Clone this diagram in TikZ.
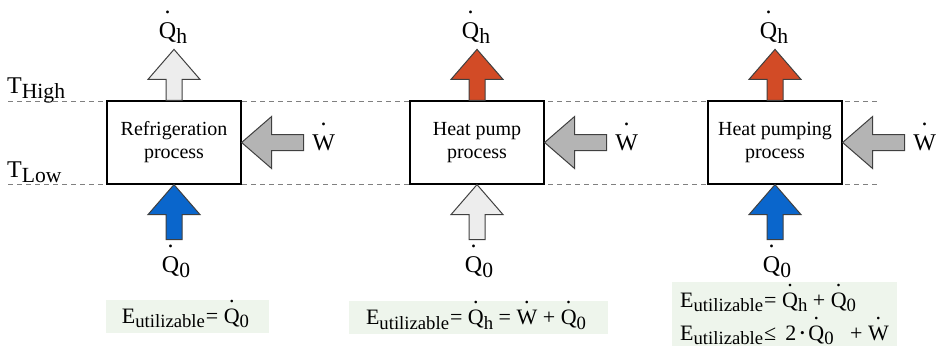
\documentclass[tikz,border=0pt]{standalone}
\usepackage{fontspec}
\setmainfont{Liberation Serif}
\usepackage{graphicx}
\usetikzlibrary{calc}
\definecolor{boxfill}{HTML}{EEF5EC}
\definecolor{hotred}{HTML}{D24B26}
\definecolor{coldblue}{HTML}{0A66CC}
\definecolor{lightg}{HTML}{EDEDED}
\definecolor{workg}{HTML}{B4B4B4}
\definecolor{edgec}{HTML}{404040}
% dotted symbol: optional raise of the dot
\newcommand\dt[2][1.05em]{\ooalign{#2\cr\hidewidth\raisebox{#1}[0pt][0pt]{.}\hidewidth\cr}}
\newcommand\fdt[1]{\dt[0.95em]{#1}}
\newcommand\lsub[1]{\raisebox{-0.22em}{\scalebox{0.9}{#1}}}
\newcommand\fsub[1]{\raisebox{-0.22em}{\scalebox{0.85}{#1}}}
\newcommand\mdot{\raisebox{0.12em}{\scalebox{0.6}{•}}}
\tikzset{
  process/.style={draw=black, fill=white, line width=1.2pt, minimum width=134pt,
    minimum height=83pt, align=center, font=\fontsize{20}{23}\selectfont, inner sep=0pt},
  lbl/.style={font=\fontsize{24}{28}\selectfont, inner sep=0pt},
  eqbox/.style={fill=boxfill, inner sep=0pt},
  eqtext/.style={font=\fontsize{22}{26}\selectfont, inner sep=0pt},
  level/.style={draw=gray, dash pattern=on 5pt off 4pt, line width=1pt},
  barrow/.pic={\path[draw=edgec, line width=1pt, pic actions]
    (0,-8) -- ({#1-30},-8) -- ({#1-30},-26) -- (#1,0) -- ({#1-30},26) -- ({#1-30},8) -- (0,8) -- cycle;}
}
\begin{document}
\begin{tikzpicture}[x=1pt,y=-1pt]
\useasboundingbox (0,0) rectangle (939,346);
% temperature levels
\coordinate (hiL) at (8,101);
\coordinate (hiR) at (878,101);
\coordinate (loL) at (8,184);
\coordinate (loR) at (878,184);
\draw[level] (hiL) -- (hiR);
\draw[level] (loL) -- (loR);
\node[lbl, anchor=base west] (th) at (7,93) {T\lsub{High}};
\node[lbl, anchor=base west] (tl) at (7,177) {T\lsub{Low}};
% process boxes
\node[process] (b1) at (174,142.5) {Refrigeration\\process};
\node[process] (b2) at (477,142.5) {Heat pump\\process};
\node[process] (b3) at (775,142.5) {Heat pumping\\process};
% arrows
\pic[fill=lightg, rotate=90] at (b1.north) {barrow=51};
\pic[fill=hotred, rotate=90] at (b2.north) {barrow=51};
\pic[fill=hotred, rotate=90] at (b3.north) {barrow=51};
\pic[fill=coldblue, rotate=90] at ($(b1.south)+(0,55)$) {barrow=55};
\pic[fill=lightg, rotate=90] at ($(b2.south)+(0,55)$) {barrow=55};
\pic[fill=coldblue, rotate=90] at ($(b3.south)+(0,55)$) {barrow=55};
\pic[fill=workg, rotate=180] at ($(b1.east)+(62,0)$) {barrow=62};
\pic[fill=workg, rotate=180] at ($(b2.east)+(62,0)$) {barrow=62};
\pic[fill=workg, rotate=180] at ($(b3.east)+(62,0)$) {barrow=62};
% labels
\foreach \b in {1,2,3}{
  \node[lbl, anchor=base] (qh\b) at ($(b\b.north)+(-1,-62)$) {\dt{Q}\lsub{h}};
  \node[lbl, anchor=base] (q0\b) at ($(b\b.south)+(2,88)$) {\dt{Q}\lsub{0}};
  \node[lbl, anchor=base] (w\b) at ($(b\b.east)+(82,8)$) {\dt{W}};
}
% utilisable energy
\node[eqbox, minimum width=163pt, minimum height=33pt] (e1) at (187.5,316.5) {};
\node[eqtext, anchor=base] (t1) at (185.5,323) {E\fsub{utilizable}\kern1pt= \fdt{Q}\fsub{0}};
\node[eqbox, minimum width=259pt, minimum height=33pt] (e2) at (478.5,317.5) {};
\node[eqtext, anchor=base] (t2) at (476,324.5) {E\fsub{utilizable}\kern1pt= \fdt{Q}\fsub{h} = \fdt{W} + \fdt{Q}\fsub{0}};
\node[eqbox, minimum width=225pt, minimum height=64pt] (e3) at (784.5,314) {};
\node[eqtext, anchor=base west] (t3) at (680,307) {E\fsub{utilizable}\kern1pt= \fdt{Q}\fsub{h} + \fdt{Q}\fsub{0}};
\node[eqtext, anchor=base west] (t4) at (680,340) {E\fsub{utilizable}\kern1pt≤ \,2\,\mdot\,\fdt{Q}\fsub{0}\enspace\ + \fdt{W}};
\end{tikzpicture}
\end{document}
